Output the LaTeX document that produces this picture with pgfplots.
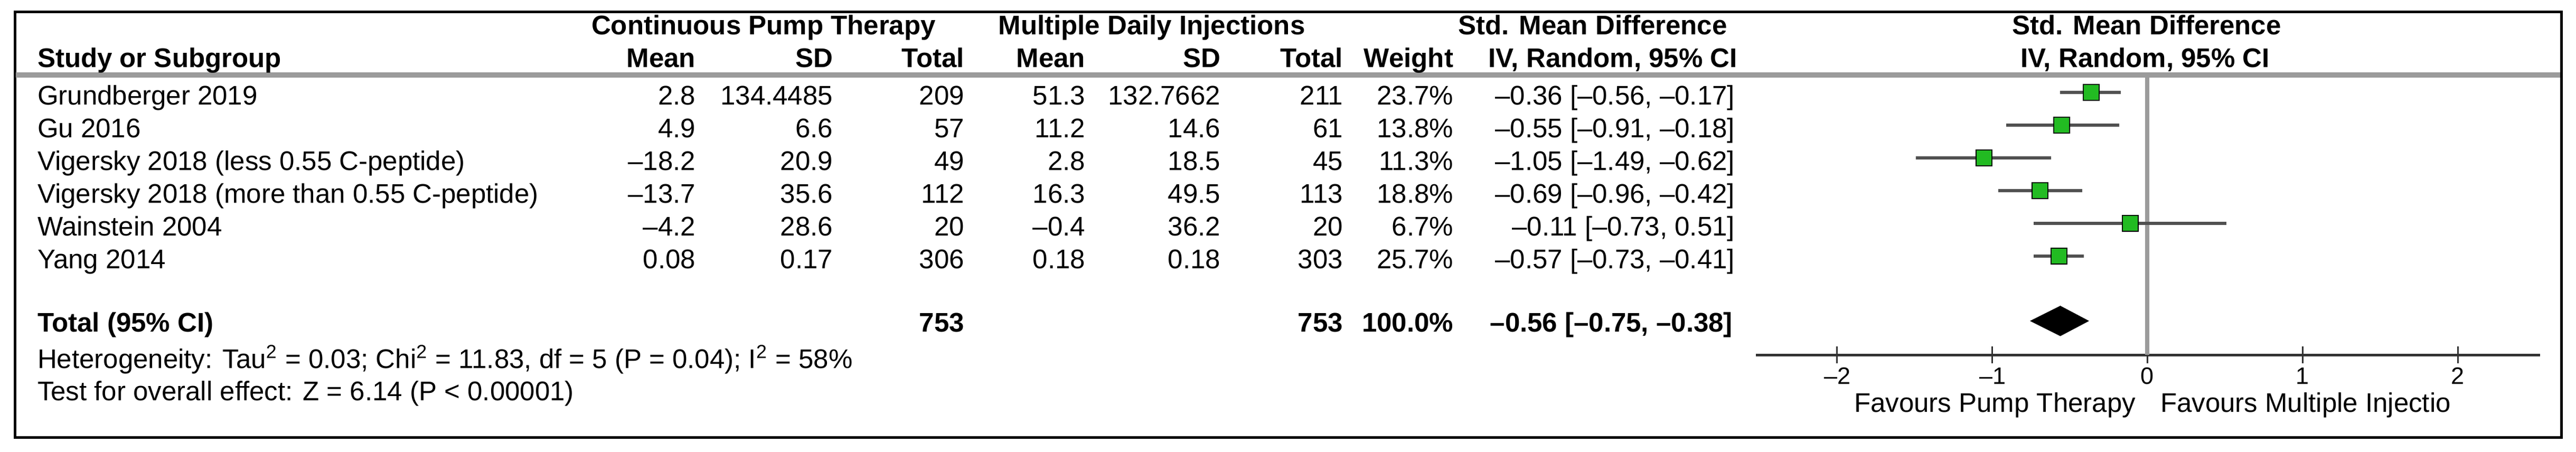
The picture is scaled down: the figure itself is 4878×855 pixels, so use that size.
\documentclass[border=0pt]{standalone}
\usepackage{fontspec}
\setmainfont{Liberation Sans}
\usepackage{pgfplots}
\usepackage{pgfplotstable}
\pgfplotsset{compat=1.18}

\definecolor{sqgreen}{RGB}{34,187,34}
\definecolor{cigray}{RGB}{80,80,80}
\definecolor{rulegray}{RGB}{155,155,155}

% SMD with 95% CI, one line per study (row = position from the top)
\pgfplotstableread{
row smd lo hi
1 -0.36 -0.56 -0.17
2 -0.55 -0.91 -0.18
3 -1.05 -1.49 -0.62
4 -0.69 -0.96 -0.42
5 -0.11 -0.73 0.51
6 -0.57 -0.73 -0.41
}\studies

\begin{document}
\begin{tikzpicture}[font=\fontsize{10.2}{12}\selectfont]
% table part, laid out in pixels of the reference (1px = 0.2pt)
\begin{scope}[x=0.2pt,y=-0.2pt,every node/.style={inner sep=0pt}]
  \path (0,0) rectangle (4878,855);
  \draw[line width=1pt] (28,22) rectangle (4850,828);
  \draw[rulegray,line width=2pt] (30,142) -- (4848,142);

  % group headers
  \node[anchor=base] at (1446,65) {\bfseries Continuous Pump Therapy};
  \node[anchor=base] at (2181,65) {\bfseries Multiple Daily Injections};
  \node[anchor=base] at (3016,65) {\bfseries Std. Mean Difference};
  \node[anchor=base] at (4065,65) {\bfseries Std. Mean Difference};

  % column headers
  \node[anchor=base west] at (70,127) {\bfseries Study or Subgroup};
  \node[anchor=base east] at (1318,127) {\bfseries Mean};
  \node[anchor=base east] at (1578,127) {\bfseries SD};
  \node[anchor=base east] at (1827,127) {\bfseries Total};
  \node[anchor=base east] at (2056,127) {\bfseries Mean};
  \node[anchor=base east] at (2312,127) {\bfseries SD};
  \node[anchor=base east] at (2544,127) {\bfseries Total};
  \node[anchor=base east] at (2753,127) {\bfseries Weight};
  \node[anchor=base] at (3054,127) {\bfseries IV, Random, 95\% CI};
  \node[anchor=base] at (4062,127) {\bfseries IV, Random, 95\% CI};

  % study rows
  \foreach \b/\name/\ma/\sa/\na/\mb/\sb/\nb/\w/\ci in {
    198/Grundberger 2019/2.8/134.4485/209/51.3/132.7662/211/23.7/{–0.36 [–0.56, –0.17]},
    260/Gu 2016/4.9/6.6/57/11.2/14.6/61/13.8/{–0.55 [–0.91, –0.18]},
    322/Vigersky 2018 (less 0.55 C-peptide)/–18.2/20.9/49/2.8/18.5/45/11.3/{–1.05 [–1.49, –0.62]},
    384/Vigersky 2018 (more than 0.55 C-peptide)/–13.7/35.6/112/16.3/49.5/113/18.8/{–0.69 [–0.96, –0.42]},
    446/Wainstein 2004/–4.2/28.6/20/–0.4/36.2/20/6.7/{–0.11 [–0.73, 0.51]},
    508/Yang 2014/0.08/0.17/306/0.18/0.18/303/25.7/{–0.57 [–0.73, –0.41]}}{
    \node[anchor=base west] at (70,\b) {\name};
    \node[anchor=base east] at (1318,\b) {\ma};
    \node[anchor=base east] at (1578,\b) {\sa};
    \node[anchor=base east] at (1827,\b) {\na};
    \node[anchor=base east] at (2056,\b) {\mb};
    \node[anchor=base east] at (2312,\b) {\sb};
    \node[anchor=base east] at (2544,\b) {\nb};
    \node[anchor=base east] at (2753,\b) {\w\%};
    \node[anchor=base east] at (3286,\b) {\ci};
  }

  % total row
  \node[anchor=base west] at (70,628) {\bfseries Total (95\% CI)};
  \node[anchor=base east] at (1827,628) {\bfseries 753};
  \node[anchor=base east] at (2544,628) {\bfseries 753};
  \node[anchor=base east] at (2753,628) {\bfseries 100.0\%};
  \node[anchor=base east] at (3282,628) {\bfseries –0.56 [–0.75, –0.38]};

  \node[anchor=base west] at (70,697) {Heterogeneity: Tau\textsuperscript{2} = 0.03; Chi\textsuperscript{2} = 11.83, df = 5 (P = 0.04); I\textsuperscript{2} = 58\%};
  \node[anchor=base west] at (70,758) {Test for overall effect: Z = 6.14 (P < 0.00001)};

  % scale labels under the forest axis
  \foreach \px/\lab in {3479/–2, 3773/–1, 4066/0, 4360/1, 4654/2}
    \node[anchor=base, font=\fontsize{9}{10}\selectfont] at (\px,727) {\lab};

  \node[anchor=base east] at (4045,780) {Favours Pump Therapy};
  \node[anchor=base west] at (4090,780) {Favours Multiple Injectio};
\end{scope}

% forest plot
\begin{axis}[
    at={(665pt,-28.4pt)}, anchor=north west,
    width=297pt, height=106pt, scale only axis,
    xmin=-2.5204, xmax=2.5306,
    ymin=-9.016, ymax=-0.4677,
    axis x line=bottom, axis y line=none,
    x axis line style={-, line width=1pt, black!80},
    xtick={-2,-1,0,1,2},
    xticklabels={},
    ytick=\empty,
    tick align=center,
    major tick length=6.4pt,
    every tick/.style={black!80, line width=0.6pt},
    clip=false]
  \draw[rulegray, line width=1.6pt] (axis cs:0,-0.4677) -- (axis cs:0,-9.016);
  \addplot[only marks, mark=none,
    error bars/.cd, x dir=both, x explicit, error mark=none,
    error bar style={line width=1.2pt, cigray}]
    table[x=smd, y expr=-\thisrow{row},
      x error plus expr=\thisrow{hi}-\thisrow{smd},
      x error minus expr=\thisrow{smd}-\thisrow{lo}] {\studies};
  \addplot[only marks, mark=square*, mark size=3pt,
    mark options={fill=sqgreen, draw=none}]
    table[x=smd, y expr=-\thisrow{row}] {\studies};
  % pooled estimate
  \addplot[fill=black, draw=black, line width=0.3pt]
    coordinates {(-0.75,-7.98) (-0.56,-7.53) (-0.38,-7.98) (-0.56,-8.43)} --cycle;
\end{axis}
\end{tikzpicture}
\end{document}
